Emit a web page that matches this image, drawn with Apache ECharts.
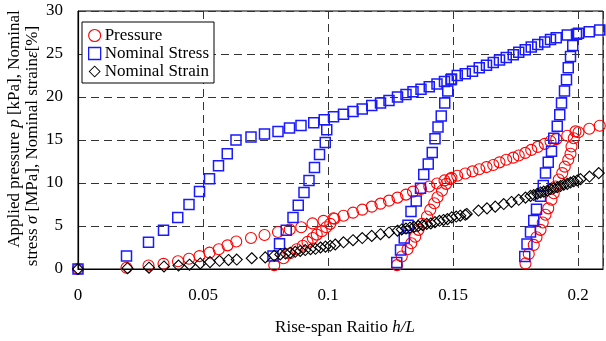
<!DOCTYPE html>
<html>
<head>
<meta charset="utf-8">
<script src="https://cdn.jsdelivr.net/npm/echarts@6/dist/echarts.min.js"></script>
<style>
  html, body { margin: 0; padding: 0; background: #fff; }
  #chart { width: 606px; height: 341px; }
</style>
</head>
<body>
<div id="chart"></div>
<script>
// ---- Data (x = rise-span ratio h/L, y = value) ----
const xTicks = [0, 0.05, 0.1, 0.15, 0.2];
const yTicks = [0, 5, 10, 15, 20, 25, 30];
const xMax = 0.21;

const seriesNames = ['Pressure', 'Nominal Stress', 'Nominal Strain'];

// Applied pressure p [kPa]
const pressureEnvelope = [
  [0,0],[0.0194,0.15],[0.0282,0.4],[0.0342,0.6],[0.04,0.9],[0.0444,1.2],[0.0486,1.5],[0.0526,1.9],
  [0.0563,2.3],[0.0598,2.75],[0.0633,3.2],[0.0692,3.6],[0.0746,3.95],[0.08,4.3],[0.0847,4.6],
  [0.0893,4.85],[0.0938,5.3],[0.0982,5.6],[0.1022,5.9],[0.1062,6.2],[0.11,6.55],[0.1137,6.9],
  [0.1175,7.25],[0.121,7.6],[0.1244,7.95],[0.1278,8.3],[0.1312,8.65],[0.134,9.0],[0.1372,9.3],
  [0.1405,9.6],[0.1436,9.95],[0.1466,10.3],[0.1494,10.6],[0.1517,10.85],[0.1549,11.1],[0.1578,11.35],
  [0.1605,11.6],[0.1634,11.85],[0.1661,12.1],[0.1686,12.4],[0.1713,12.7],[0.1741,12.95],[0.1763,13.2],
  [0.1789,13.5],[0.1813,13.85],[0.1839,14.2],[0.1867,14.55],[0.189,14.85],[0.1913,15.1],[0.1957,15.5],
  [0.2002,15.9],[0.2045,16.3],[0.2087,16.65]
];
const pressureBranch2 = [
  [0.0785,0.45],[0.0822,1.25],[0.0846,1.8],[0.0875,2.3],[0.0899,2.7],[0.0918,3.15],[0.0939,3.6],
  [0.0955,4.0],[0.0975,4.4],[0.0993,4.85],[0.1009,5.25],[0.1026,5.85]
];
const pressureBranch3 = [
  [0.1276,0.45],[0.1295,1.45],[0.1318,2.3],[0.1333,3.0],[0.1349,3.75],[0.1362,4.55],[0.1376,5.25],
  [0.1396,6.1],[0.1409,6.9],[0.1425,7.65],[0.1438,8.35],[0.1456,9.1],[0.1473,9.9],[0.1489,10.45]
];
const pressureBranch4 = [
  [0.179,0.65],[0.1803,1.75],[0.1823,2.8],[0.1834,3.7],[0.185,4.55],[0.1859,5.4],[0.187,6.3],
  [0.1881,7.05],[0.1894,8.05],[0.1903,8.8],[0.191,9.6],[0.1923,10.4],[0.1937,11.15],[0.1947,11.9],
  [0.1961,12.7],[0.197,13.4],[0.1974,14.25],[0.1983,15.2],[0.199,16.0]
];

// Nominal stress sigma [MPa]
const stressEnvelope = [
  [0,0],[0.0194,1.5],[0.0282,3.1],[0.0342,4.5],[0.0399,6.0],[0.0444,7.5],[0.0486,9.0],[0.0526,10.5],
  [0.0562,12.0],[0.0597,13.4],[0.0632,15.0],[0.0692,15.35],[0.0746,15.7],[0.08,16.0],[0.0846,16.4],
  [0.0892,16.7],[0.0943,17.0],[0.0985,17.35],[0.1022,17.7],[0.1062,18.0],[0.11,18.3],[0.1137,18.6],
  [0.1175,19.0],[0.121,19.3],[0.1244,19.6],[0.1278,20.0],[0.1312,20.3],[0.134,20.6],[0.1372,20.9],
  [0.1405,21.2],[0.1436,21.5],[0.1466,21.8],[0.1494,22.1],[0.1517,22.5],[0.1549,22.7],[0.1578,23.0],
  [0.1605,23.4],[0.1634,23.7],[0.1661,24.0],[0.1686,24.3],[0.1713,24.6],[0.1741,24.9],[0.1763,25.2],
  [0.1789,25.5],[0.1813,25.8],[0.1839,26.1],[0.1867,26.4],[0.189,26.7],[0.1913,26.9],[0.1957,27.2],
  [0.2002,27.4],[0.2045,27.6],[0.2087,27.8]
];
const stressBranch2 = [
  [0.078,1.5],[0.0806,2.95],[0.0833,4.5],[0.086,6.0],[0.0881,7.4],[0.0904,8.9],[0.0924,10.3],
  [0.0946,11.8],[0.0966,13.3],[0.0989,14.7],[0.0995,16.2]
];
const stressBranch3 = [
  [0.1275,0.75],[0.129,2.2],[0.1305,3.6],[0.132,5.1],[0.1332,6.7],[0.1353,7.9],[0.137,9.4],
  [0.1383,11.0],[0.1401,12.2],[0.1417,13.55],[0.1428,15.15],[0.144,16.5],[0.1453,17.8],
  [0.1467,19.3],[0.1479,20.7],[0.1492,22.0]
];
const stressBranch4 = [
  [0.1787,1.45],[0.1796,2.9],[0.181,4.3],[0.1823,5.65],[0.1834,6.95],[0.185,8.45],[0.1861,9.7],
  [0.187,11.15],[0.1881,12.4],[0.1894,13.7],[0.1903,15.2],[0.1917,16.6],[0.1927,17.95],[0.1934,19.3],
  [0.1946,20.7],[0.1954,22.0],[0.1961,23.4],[0.197,24.7],[0.1979,26.0],[0.1994,27.3]
];

// Nominal strain epsilon [%]
const strainRun1 = [
  [0,0],[0.0198,0.1],[0.0284,0.15],[0.0344,0.3],[0.0402,0.4],[0.0446,0.5],[0.0489,0.65],[0.0528,0.8],
  [0.0566,0.95],[0.0602,1.05],[0.0635,1.1],[0.0695,1.25],[0.0749,1.35]
];
const strainRun2 = [
  [0.0785,1.55],[0.0809,1.7],[0.083,1.8],[0.0849,1.9],[0.0869,2.0],[0.0889,2.1],[0.0909,2.2],
  [0.093,2.3],[0.095,2.35],[0.097,2.5],[0.099,2.6],[0.1009,2.7],[0.1029,2.85],[0.1062,3.1],
  [0.11,3.35],[0.1137,3.6],[0.1175,3.85],[0.121,4.05],[0.1244,4.25],[0.1278,4.45]
];
const strainRun3 = [
  [0.1295,4.6],[0.1312,4.7],[0.1328,4.8],[0.1344,4.9],[0.1361,5.0],[0.1379,5.1],[0.1395,5.25],
  [0.1411,5.3],[0.1428,5.45],[0.1446,5.6],[0.1462,5.7],[0.1478,5.8],[0.1495,6.0],[0.1513,6.1],
  [0.1529,6.2],[0.1549,6.3],[0.1555,6.4],[0.1602,6.8],[0.1636,7.05],[0.1669,7.25],[0.1703,7.55],
  [0.1734,7.8],[0.1763,8.05],[0.179,8.3]
];
const strainRun4 = [
  [0.181,8.5],[0.1823,8.6],[0.1837,8.75],[0.185,8.9],[0.1863,9.0],[0.1877,9.1],[0.189,9.3],
  [0.1903,9.4],[0.1917,9.5],[0.193,9.65],[0.1943,9.8],[0.1957,9.9],[0.197,10.05],[0.1983,10.2],
  [0.1997,10.3],[0.201,10.45],[0.2046,10.75],[0.2083,11.15]
];

const pressure = [].concat(pressureEnvelope, pressureBranch2, pressureBranch3, pressureBranch4);
const stress = [].concat(stressEnvelope, stressBranch2, stressBranch3, stressBranch4);
const strain = [].concat(strainRun1, strainRun2, strainRun3, strainRun4);

// ---- Chart ----
const FONT = "'Liberation Serif', 'Times New Roman', serif";
const chart = echarts.init(document.getElementById('chart'), null, { renderer: 'canvas' });

const gridLine = { show: true, lineStyle: { color: '#333', width: 1, type: [8, 5] } };
const CLEAR = 'rgba(255,255,255,0)';
// outlined diamond ring (outer clockwise, inner counter-clockwise) for the legend icon
const DIAMOND_RING = 'path://M10,0L20,10L10,20L0,10Z M10,2.2L2.2,10L10,17.8L17.8,10Z';
const styles = [
  { symbol: 'circle', size: 11, color: '#ff0000', width: 1.1 },
  { symbol: 'rect', size: 10, color: '#1a1aff', width: 1.5 },
  { symbol: 'diamond', size: 11, color: '#000000', width: 1.1 }
];

const legendData = [
  { name: seriesNames[0], icon: 'circle',
    itemStyle: { color: CLEAR, borderColor: styles[0].color, borderWidth: 1.1 } },
  { name: seriesNames[1], icon: 'rect',
    itemStyle: { color: CLEAR, borderColor: styles[1].color, borderWidth: 1.3 } },
  { name: seriesNames[2], icon: DIAMOND_RING,
    itemStyle: { color: '#000', borderWidth: 0, borderColor: 'rgba(0,0,0,0)' } }
];

chart.setOption({
  backgroundColor: '#fff',
  animation: false,
  textStyle: { fontFamily: FONT },
  grid: { left: 78, right: 3, top: 11, bottom: 72, containLabel: false,
          show: true, borderColor: '#000', borderWidth: 1, backgroundColor: 'transparent' },
  legend: {
    data: legendData,
    orient: 'vertical',
    left: 82, top: 22,
    padding: [5, 5, 3, 6],
    itemGap: 1,
    itemWidth: 12, itemHeight: 12,
    backgroundColor: '#fff',
    borderColor: '#000', borderWidth: 1, borderRadius: 0,
    textStyle: { fontFamily: FONT, fontSize: 17, color: '#000', lineHeight: 17, padding: [0, 0, 0, -1] }
  },
  xAxis: {
    type: 'value',
    min: xTicks[0], max: xMax, interval: xTicks[1] - xTicks[0],
    axisLine: { show: true, onZero: false, lineStyle: { color: '#000', width: 1.2 } },
    axisTick: { show: false },
    splitLine: gridLine,
    axisLabel: {
      margin: 18, fontSize: 17, color: '#000', fontFamily: FONT,
      formatter: function (v) {
        const k = v / 0.05;
        if (Math.abs(k - Math.round(k)) > 1e-6 || v > xTicks[xTicks.length - 1] + 1e-9) return '';
        return String(+v.toFixed(2));
      }
    }
  },
  yAxis: {
    type: 'value',
    min: yTicks[0], max: yTicks[yTicks.length - 1], interval: yTicks[1] - yTicks[0],
    axisLine: { show: true, lineStyle: { color: '#000', width: 1.2 } },
    axisTick: { show: false },
    splitLine: gridLine,
    axisLabel: { margin: 15, fontSize: 17, color: '#000', fontFamily: FONT }
  },
  graphic: [
    {
      type: 'text', x: 15, y: 129, rotation: Math.PI / 2,
      style: {
        text: '{n|Applied pressure }{i|p}{n| [kPa], Nominal}',
        align: 'center', verticalAlign: 'middle',
        rich: {
          n: { fontFamily: FONT, fontSize: 17, fill: '#000' },
          i: { fontFamily: FONT, fontSize: 17, fontStyle: 'italic', fill: '#000' }
        }
      }
    },
    {
      type: 'text', x: 33, y: 146, rotation: Math.PI / 2,
      style: {
        text: '{n|stress }{i|σ}{n| [MPa], Nominal strain}{i|ε}{n|[%]}',
        align: 'center', verticalAlign: 'middle',
        rich: {
          n: { fontFamily: FONT, fontSize: 17, fill: '#000' },
          i: { fontFamily: FONT, fontSize: 17, fontStyle: 'italic', fill: '#000' }
        }
      }
    },
    {
      type: 'text', x: 345, y: 328,
      style: {
        text: '{n|Rise-span Raitio }{i|h/L}',
        align: 'center', verticalAlign: 'middle',
        rich: {
          n: { fontFamily: FONT, fontSize: 17, fill: '#000' },
          i: { fontFamily: FONT, fontSize: 17, fontStyle: 'italic', fill: '#000' }
        }
      }
    }
  ],
  series: [
    {
      name: seriesNames[0], type: 'scatter', data: pressure,
      symbol: styles[0].symbol, symbolSize: styles[0].size,
      itemStyle: { color: CLEAR, borderColor: styles[0].color, borderWidth: styles[0].width, opacity: 1 },
      z: 2
    },
    {
      name: seriesNames[1], type: 'scatter', data: stress,
      symbol: styles[1].symbol, symbolSize: styles[1].size,
      itemStyle: { color: CLEAR, borderColor: styles[1].color, borderWidth: styles[1].width, opacity: 1 },
      z: 3
    },
    {
      name: seriesNames[2], type: 'scatter', data: strain,
      symbol: styles[2].symbol, symbolSize: styles[2].size,
      itemStyle: { color: CLEAR, borderColor: styles[2].color, borderWidth: styles[2].width, opacity: 1 },
      z: 4
    }
  ]
});
</script>
</body>
</html>
